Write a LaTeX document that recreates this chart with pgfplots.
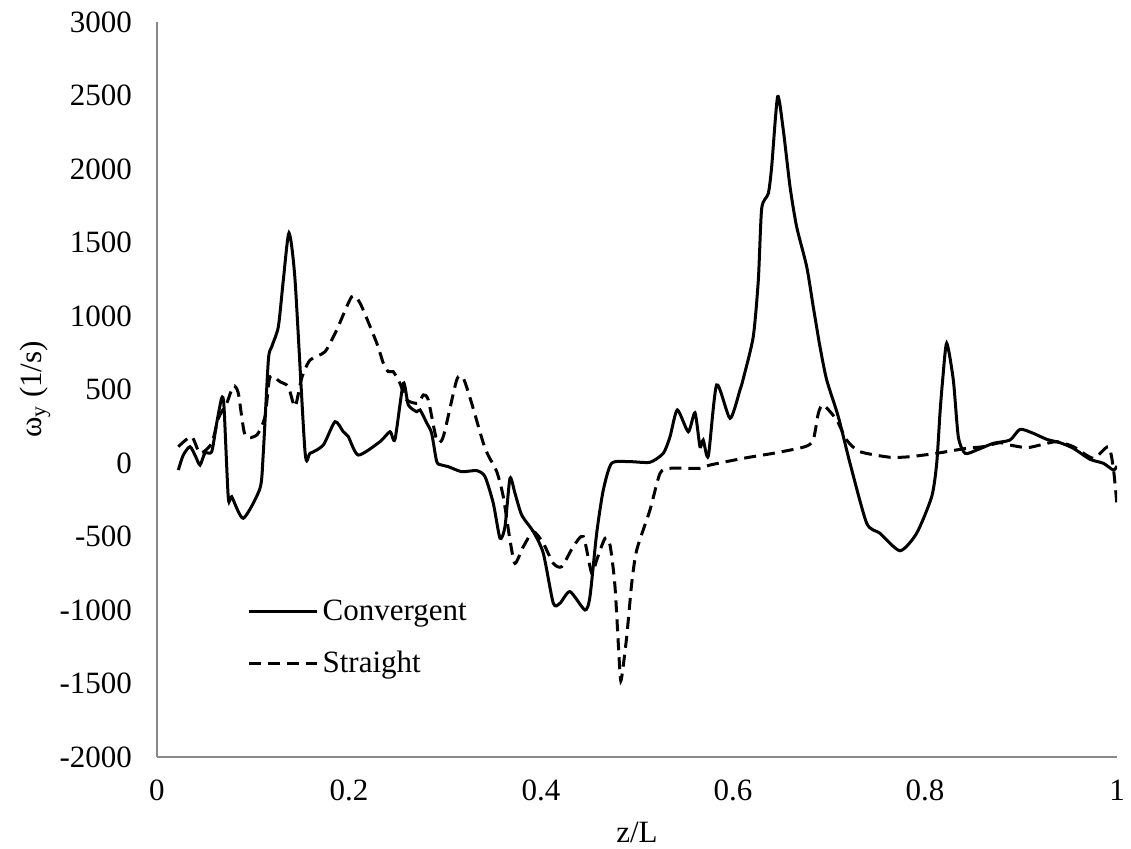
\documentclass[border=0pt]{standalone}
\usepackage{fontspec}
\setmainfont{Liberation Serif}
\usepackage{pgfplots}
\pgfplotsset{compat=1.18}
\definecolor{axisgray}{RGB}{137,137,137}

% vorticity component along the channel, convergent vs straight duct
\pgfplotstableread{
x y
0.0222 -48
0.0274 54
0.0344 111
0.0403 43
0.0448 -14
0.0500 68
0.0570 77
0.0622 272
0.0674 442
0.0698 383
0.0743 -240
0.0778 -229
0.0899 -376
0.1073 -172
0.1107 66
0.1160 700
0.1195 791
0.1264 927
0.1316 1245
0.1375 1565
0.1438 1245
0.1542 77
0.1594 66
0.1732 122
0.1854 281
0.1940 213
0.1993 179
0.2097 54
0.2323 145
0.2427 213
0.2479 161
0.2566 542
0.2618 395
0.2705 349
0.2740 361
0.2810 272
0.2861 202
0.2914 9
0.2966 -14
0.3034 -25
0.3174 -59
0.3330 -52
0.3417 -93
0.3503 -274
0.3573 -512
0.3625 -433
0.3677 -104
0.3729 -206
0.3799 -354
0.3920 -467
0.4024 -614
0.4128 -954
0.4198 -954
0.4302 -875
0.4458 -1000
0.4510 -909
0.4580 -478
0.4649 -184
0.4736 -2
0.4927 9
0.5135 5
0.5274 66
0.5344 179
0.5420 361
0.5534 213
0.5604 342
0.5656 111
0.5690 156
0.5743 48
0.5830 531
0.5969 304
0.6073 497
0.6108 576
0.6211 859
0.6264 1245
0.6299 1732
0.6368 1834
0.6403 2016
0.6465 2492
0.6524 2265
0.6594 1880
0.6663 1607
0.6768 1335
0.6836 1063
0.6906 791
0.6976 565
0.7097 315
0.7219 -2
0.7393 -410
0.7531 -478
0.7740 -597
0.7913 -478
0.8070 -229
0.8122 -2
0.8156 338
0.8184 565
0.8226 815
0.8295 565
0.8347 179
0.8417 66
0.8538 88
0.8712 134
0.8885 156
0.8990 229
0.9128 202
0.9268 161
0.9406 138
0.9545 100
0.9719 25
0.9858 -2
0.9962 -48
1.0000 -20
}\convergent

\pgfplotstableread{
x y
0.0222 111
0.0361 179
0.0448 66
0.0570 134
0.0639 304
0.0726 406
0.0795 523
0.0847 475
0.0917 190
0.1039 190
0.1125 315
0.1177 587
0.1281 553
0.1368 519
0.1438 383
0.1507 578
0.1594 700
0.1750 757
0.1872 905
0.2028 1131
0.2115 1088
0.2289 816
0.2357 680
0.2409 621
0.2461 621
0.2531 542
0.2601 429
0.2722 406
0.2774 463
0.2826 429
0.2914 156
0.2982 179
0.3122 565
0.3191 576
0.3278 406
0.3417 100
0.3539 -59
0.3607 -229
0.3677 -524
0.3729 -683
0.3816 -569
0.3920 -467
0.4024 -546
0.4128 -683
0.4216 -705
0.4336 -569
0.4441 -501
0.4528 -750
0.4580 -660
0.4667 -512
0.4719 -558
0.4771 -842
0.4823 -1431
0.4840 -1460
0.4893 -1181
0.4945 -819
0.4997 -592
0.5135 -320
0.5240 -70
0.5344 -36
0.5656 -36
0.5760 -14
0.6108 32
0.6455 70
0.6750 111
0.6836 156
0.6889 338
0.6940 395
0.7080 293
0.7184 156
0.7323 77
0.7635 39
0.7844 43
0.8122 66
0.8434 100
0.8608 111
0.8780 138
0.8885 122
0.9060 104
0.9198 122
0.9372 145
0.9545 111
0.9753 32
0.9910 111
0.9962 -36
1.0000 -286
}\straight

\begin{document}
\begin{tikzpicture}
\begin{axis}[
  scale only axis, width=480pt, height=367.5pt,
  xmin=0, xmax=1, ymin=-2000, ymax=3000,
  axis x line*=bottom, axis y line*=left,
  axis line style={axisgray, line width=0.75pt},
  xtick={0,0.2,0.4,0.6,0.8,1},
  xticklabels={0,0.2,0.4,0.6,0.8,1},
  ytick={-2000,-1500,-1000,-500,0,500,1000,1500,2000,2500,3000},
  major tick length=0pt,
  /pgf/number format/assume math mode=true,
  /pgf/number format/1000 sep={},
  scaled ticks=false,
  tick label style={font=\fontsize{15.5}{18}\selectfont, black},
  xticklabel style={yshift=-8pt},
  yticklabel style={xshift=-9pt},
  xlabel={z/L}, ylabel={ω\textsubscript{y} (1/s)},
  every axis x label/.style={at={(axis description cs:0.5,-0.102)}, anchor=center,
    font=\fontsize{15.5}{18}\selectfont},
  every axis y label/.style={at={(axis description cs:-0.127,0.5)}, anchor=center, rotate=90,
    font=\fontsize{15.5}{18}\selectfont},
  legend style={draw=none, fill=none, at={(axis description cs:0.094,0.220)}, anchor=north west,
    font=\fontsize{15.5}{18}\selectfont, row sep=10pt, inner sep=0pt,
    nodes={inner sep=2pt}},
  legend cell align=left,
  legend image code/.code={\draw[#1] (0pt,0pt) -- (34pt,0pt);},
]
\addplot[black, line width=1.5pt, smooth, tension=0.4] table[x=x,y=y] {\convergent};
\addlegendentry{Convergent}
\addplot[black, line width=1.5pt, dash pattern=on 6pt off 3.5pt, smooth, tension=0.4] table[x=x,y=y] {\straight};
\addlegendentry{Straight}
\end{axis}
\pgfresetboundingbox
\path[use as bounding box] ([shift={(-78.5pt,-46pt)}]current axis.south west) rectangle ([shift={(7pt,11pt)}]current axis.north east);
\end{tikzpicture}
\end{document}
